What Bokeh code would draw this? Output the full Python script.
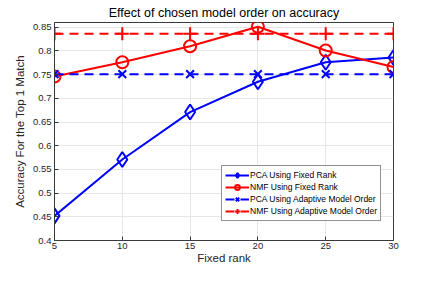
from bokeh.plotting import figure
from bokeh.models import FixedTicker, Range1d, Legend
from bokeh.embed import file_html
from bokeh.resources import INLINE

ranks = [5, 10, 15, 20, 25, 30]
pca_fixed = [0.452, 0.571, 0.671, 0.735, 0.776, 0.786]
nmf_fixed = [0.746, 0.776, 0.810, 0.851, 0.801, 0.766]
pca_adaptive = [0.751, 0.751, 0.751, 0.751, 0.751, 0.751]
nmf_adaptive = [0.836, 0.836, 0.836, 0.836, 0.836, 0.836]

xticks = [5, 10, 15, 20, 25, 30]
yticks = [0.4, 0.45, 0.5, 0.55, 0.6, 0.65, 0.7, 0.75, 0.8, 0.85]
ytick_labels = ["0.4", "0.45", "0.5", "0.55", "0.6", "0.65", "0.7", "0.75", "0.8", "0.85"]

FONT = "Liberation Sans"
AX = "#3a3a3a"

p = figure(width=420, height=266, output_backend="svg", toolbar_location=None,
           x_range=Range1d(5, 30), y_range=Range1d(0.4, 0.86),
           min_border_left=54, min_border_right=27, min_border_top=4, min_border_bottom=0)

p.title.text = "Effect of chosen model order on accuracy"
p.title.align = "center"
p.title.text_font = FONT
p.title.text_font_size = "12.5px"
p.title.text_font_style = "normal"
p.title.text_color = "#000000"
p.title.standoff = 6

p.outline_line_color = AX
p.outline_line_width = 1
p.outline_line_alpha = 1

for ax in (p.xaxis[0], p.yaxis[0]):
    ax.axis_line_color = AX
    ax.major_tick_line_color = AX
    ax.major_tick_in = 4
    ax.major_tick_out = 0
    ax.minor_tick_line_color = None
    ax.major_label_text_font = FONT
    ax.major_label_text_font_size = "9.5px"
    ax.major_label_text_color = "#262626"
    ax.axis_label_text_font = FONT
    ax.axis_label_text_font_size = "11.5px"
    ax.axis_label_text_font_style = "normal"
    ax.axis_label_text_color = "#262626"

p.xaxis.major_label_standoff = 2
p.xaxis.axis_label_standoff = 0
p.yaxis.major_label_standoff = 3
p.yaxis.axis_label_standoff = 4

p.xaxis.ticker = FixedTicker(ticks=xticks)
p.yaxis.ticker = FixedTicker(ticks=yticks)
p.yaxis.major_label_overrides = {t: l for t, l in zip(yticks, ytick_labels)}
p.xaxis.axis_label = "Fixed rank"
p.yaxis.axis_label = "Accuracy For the Top 1 Match"

p.xgrid.ticker = FixedTicker(ticks=xticks)
p.ygrid.ticker = FixedTicker(ticks=yticks)
p.grid.grid_line_color = "#e6e6e6"
p.grid.grid_line_width = 1

B = "#0000ff"
R = "#ff0000"

r1 = p.line(ranks, pca_fixed, line_color=B, line_width=2)
m1 = p.scatter(ranks, pca_fixed, marker="diamond", size=15, fill_color=None, line_color=B, line_width=2)
r2 = p.line(ranks, nmf_fixed, line_color=R, line_width=2)
m2 = p.scatter(ranks, nmf_fixed, marker="circle", size=12, fill_color=None, line_color=R, line_width=2)
r3 = p.line(ranks, pca_adaptive, line_color=B, line_width=2, line_dash="9 6")
m3 = p.scatter(ranks, pca_adaptive, marker="x", size=11, line_color=B, line_width=2)
r4 = p.line(ranks, nmf_adaptive, line_color=R, line_width=2, line_dash="9 6")
m4 = p.scatter(ranks, nmf_adaptive, marker="cross", size=13, line_color=R, line_width=2)

legend = Legend(items=[
    ("PCA Using Fixed Rank", [r1, m1]),
    ("NMF Using Fixed Rank", [r2, m2]),
    ("PCA Using Adaptive Model Order", [r3, m3]),
    ("NMF Using Adaptive Model Order", [r4, m4]),
], location=(167, 19))
legend.label_text_font = FONT
legend.label_text_font_size = "8.5px"
legend.label_text_color = "#000000"
legend.label_height = 12
legend.label_standoff = 1
legend.glyph_width = 24
legend.glyph_height = 12
legend.spacing = 0
legend.padding = 3
legend.margin = 0
legend.border_line_color = "#262626"
legend.border_line_width = 1
legend.background_fill_color = "white"
legend.background_fill_alpha = 1
p.add_layout(legend, "center")

open("out.html", "w").write(file_html(p, INLINE))
